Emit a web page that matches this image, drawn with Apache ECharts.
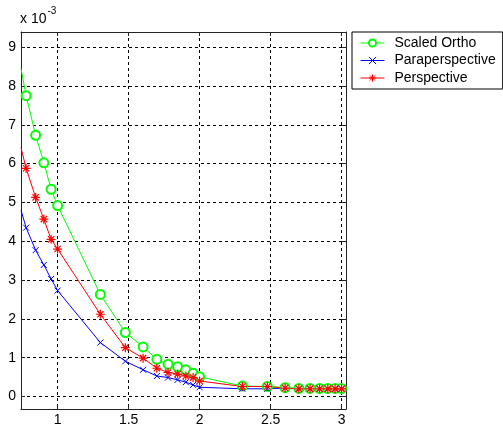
<!DOCTYPE html>
<html><head><meta charset="utf-8">
<script src="https://cdn.jsdelivr.net/npm/echarts@6/dist/echarts.min.js"></script>
<style>html,body{margin:0;padding:0;background:#fff}#c{width:503px;height:432px}</style>
</head><body><div id="c"></div>
<script>
const xValues = [0.742, 0.778, 0.845, 0.903, 0.954, 1.0, 1.301, 1.477, 1.602, 1.699, 1.778, 1.845, 1.903, 1.954, 2.0, 2.301, 2.477, 2.602, 2.699, 2.778, 2.845, 2.903, 2.954, 3.0];
const scaledOrtho = [8.45, 7.75, 6.73, 6.02, 5.34, 4.92, 2.63, 1.65, 1.28, 0.96, 0.83, 0.77, 0.69, 0.60, 0.51, 0.27, 0.26, 0.23, 0.21, 0.21, 0.21, 0.21, 0.21, 0.21];
const paraperspective = [4.80, 4.35, 3.77, 3.39, 3.03, 2.73, 1.39, 0.91, 0.69, 0.53, 0.49, 0.43, 0.37, 0.30, 0.24, 0.20, 0.20, 0.22, 0.20, 0.20, 0.20, 0.20, 0.20, 0.20];
const perspective = [6.41, 5.88, 5.13, 4.57, 4.05, 3.80, 2.12, 1.26, 0.99, 0.73, 0.62, 0.58, 0.53, 0.49, 0.40, 0.26, 0.26, 0.22, 0.20, 0.20, 0.20, 0.20, 0.20, 0.20];
const xTicks = [1, 1.5, 2, 2.5, 3];
const yTicks = [0, 1, 2, 3, 4, 5, 6, 7, 8, 9];
const seriesNames = ['Scaled Ortho', 'Paraperspective', 'Perspective'];

const X_PATH = 'path://M0,0 L10,10 M10,0 L0,10';
const STAR_PATH = 'path://M5,0 L5,10 M0,5 L10,5 M1.5,1.5 L8.5,8.5 M8.5,1.5 L1.5,8.5';

function pairs(ys) {
  return ys.map((y, i) => i === 0 ? { value: [xValues[i], y], symbol: 'none' } : [xValues[i], y]);
}
const FONT = 'Liberation Sans, Arial, sans-serif';
const chart = echarts.init(document.getElementById('c'));
const xBase = { type: 'value', min: 0.742, max: 3.031 };
const yBase = { type: 'value', min: -0.32, max: 9.39 };
const axisLine = { show: true, onZero: false, lineStyle: { color: '#222', width: 1 } };
chart.setOption({
  animation: false,
  backgroundColor: '#fff',
  title: {
    text: '{a|x 10}{b|-3}', left: 20, top: 6, padding: 0,
    textStyle: { fontWeight: 'normal', rich: {
      a: { fontSize: 14, fontFamily: FONT, fontWeight: 'normal', color: '#000', lineHeight: 20, verticalAlign: 'bottom' },
      b: { fontSize: 10, fontFamily: FONT, fontWeight: 'normal', color: '#000', lineHeight: 20, verticalAlign: 'top', padding: [0, 0, 0, 1] }
    } }
  },
  legend: {
    orient: 'vertical', left: 352, top: 32,
    padding: [4, 7, 4, 8], itemGap: 3.5,
    itemWidth: 24, itemHeight: 9,
    borderColor: '#000', borderWidth: 1,
    lineStyle: { width: 1 },
    itemStyle: { borderWidth: 1 },
    textStyle: { fontSize: 14, fontFamily: FONT, color: '#000', padding: [0, 0, 0, 5], lineHeight: 14 },
    data: seriesNames
  },
  grid: { left: 21, top: 32, width: 325, height: 377, containLabel: false },
  xAxis: [
    Object.assign({}, xBase, {
      position: 'bottom',
      axisLine: axisLine,
      axisTick: { show: true, inside: true, length: 4, customValues: xTicks, lineStyle: { color: '#222' } },
      axisLabel: { customValues: xTicks, margin: 4, fontSize: 14, fontFamily: FONT, color: '#000' },
      splitLine: { show: true, lineStyle: { type: [3, 3], color: '#000', width: 1 } }
    }),
    Object.assign({}, xBase, {
      position: 'top',
      axisLine: axisLine,
      axisTick: { show: true, inside: true, length: 4, customValues: xTicks, lineStyle: { color: '#222' } },
      axisLabel: { show: false },
      splitLine: { show: false }
    })
  ],
  yAxis: [
    Object.assign({}, yBase, {
      position: 'left',
      axisLine: axisLine,
      axisTick: { show: true, inside: true, length: 4, customValues: yTicks, lineStyle: { color: '#222' } },
      axisLabel: { customValues: yTicks, margin: 5, fontSize: 14, fontFamily: FONT, color: '#000' },
      splitLine: { show: true, lineStyle: { type: [3, 3], color: '#000', width: 1 } }
    }),
    Object.assign({}, yBase, {
      position: 'right',
      axisLine: axisLine,
      axisTick: { show: true, inside: true, length: 4, customValues: yTicks, lineStyle: { color: '#222' } },
      axisLabel: { show: false },
      splitLine: { show: false }
    })
  ],
  series: [
    {
      name: seriesNames[0], type: 'line', data: pairs(scaledOrtho),
      symbol: 'emptyCircle', symbolSize: 9, showAllSymbol: true,
      lineStyle: { color: '#00ff00', width: 1 },
      itemStyle: { color: '#00ff00', borderColor: '#00ff00', borderWidth: 1 }
    },
    {
      name: seriesNames[1], type: 'line', data: pairs(paraperspective),
      symbol: X_PATH, symbolSize: 6, showAllSymbol: true,
      lineStyle: { color: '#0000ff', width: 1 },
      itemStyle: { color: '#0000ff', borderColor: '#0000ff', borderWidth: 1 }
    },
    {
      name: seriesNames[2], type: 'line', data: pairs(perspective),
      symbol: STAR_PATH, symbolSize: 9, showAllSymbol: true,
      lineStyle: { color: '#ff0000', width: 1 },
      itemStyle: { color: '#ff0000', borderColor: '#ff0000', borderWidth: 1.2 }
    }
  ]
});
</script></body></html>
